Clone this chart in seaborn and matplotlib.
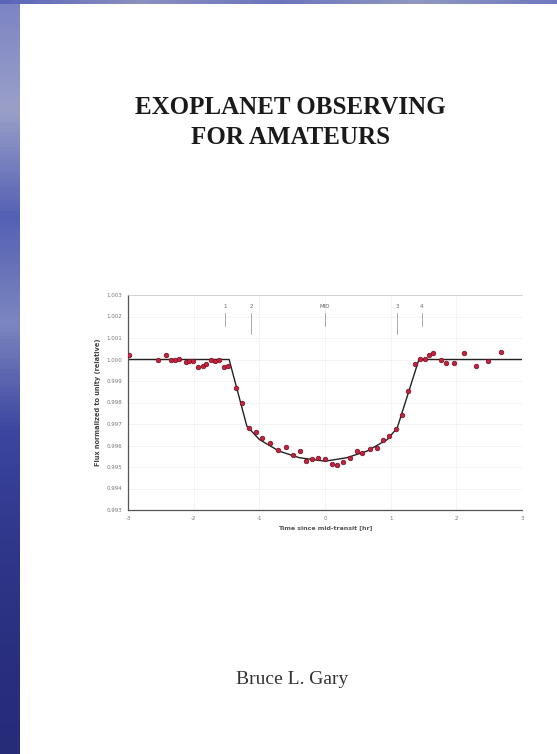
import numpy as np
import pandas as pd
import seaborn as sns
import matplotlib.pyplot as plt
from matplotlib.colors import LinearSegmentedColormap

# light curve points (hours from mid-transit, normalized flux)
time_hr = [-2.98, -2.55, -2.42, -2.34, -2.29, -2.23, -2.12, -2.07, -2.01, -1.94,
           -1.86, -1.81, -1.74, -1.67, -1.61, -1.54, -1.47, -1.36, -1.26, -1.15,
           -1.05, -0.96, -0.84, -0.72, -0.59, -0.49, -0.38, -0.29, -0.20, -0.10,
           0.00, 0.10, 0.19, 0.28, 0.38, 0.48, 0.57, 0.69, 0.79, 0.89,
           0.98, 1.08, 1.17, 1.27, 1.37, 1.45, 1.53, 1.59, 1.65, 1.76,
           1.85, 1.96, 2.11, 2.30, 2.48, 2.68]
flux = [1.00019, 1.00000, 1.00020, 1.00000, 0.99997, 1.00003, 0.99988, 0.99991, 0.99994, 0.99966,
        0.99972, 0.99978, 1.00000, 0.99991, 1.00000, 0.99966, 0.99969, 0.99868, 0.99798, 0.99682,
        0.99662, 0.99636, 0.99612, 0.99581, 0.99594, 0.99558, 0.99574, 0.99527, 0.99538, 0.99543,
        0.99535, 0.99516, 0.99510, 0.99522, 0.99543, 0.99574, 0.99566, 0.99585, 0.99589, 0.99625,
        0.99643, 0.99678, 0.99744, 0.99853, 0.99977, 1.00003, 1.00003, 1.00019, 1.00028, 1.00000,
        0.99984, 0.99984, 1.00028, 0.99969, 0.99992, 1.00034]

# fitted model curve
model_t = [-3.0, -1.46, -1.19, -1.00, -0.70, -0.39, 0.00, 0.33, 0.64, 0.95, 1.10, 1.43, 3.0]
model_f = [1.0000, 1.0000, 0.99690, 0.99628, 0.99574, 0.99543, 0.99527, 0.99543, 0.99574, 0.99628, 0.99682, 1.0000, 1.0000]

# contact markers
contact_t = [-1.52, -1.12, 0.0, 1.10, 1.47]
contact_lab = ["1", "2", "MID", "3", "4"]

xticks = [-3, -2, -1, 0, 1, 2, 3]
yticks = [1.003, 1.002, 1.001, 1.000, 0.999, 0.998, 0.997, 0.996, 0.995, 0.994, 0.993]

sns.set_theme(style="white")
plt.rcParams['font.family'] = ['Liberation Serif', 'DejaVu Serif']

fig = plt.figure(figsize=(5.57, 7.54), dpi=100)
fig.patch.set_facecolor('white')

# blue page edge on the left and top
strip = fig.add_axes([0, 0, 20 / 557, 1])
grad = np.linspace(0, 1, 200).reshape(-1, 1)
cm = LinearSegmentedColormap.from_list('edge', ['#7c84c4', '#9aa0c8', '#5460b4', '#7c86c0', '#3c46a0',
                                                '#30388c', '#2a3080', '#262c78'])
strip.imshow(grad, aspect='auto', cmap=cm, extent=[0, 1, 0, 1], origin='upper')
strip.axis('off')
top = fig.add_axes([0, 1 - 4 / 754, 1, 4 / 754])
cm2 = LinearSegmentedColormap.from_list('top', ['#5a64b8', '#8a90c0', '#6c74bc', '#9098c0', '#7078c0'])
top.imshow(np.linspace(0, 1, 200).reshape(1, -1), aspect='auto', cmap=cm2, extent=[0, 1, 0, 1])
top.axis('off')

fig.text(0.522, 1 - 107 / 754, "EXOPLANET OBSERVING", ha='center', va='center',
         fontsize=18, fontweight='bold', color='#1a1a1a')
fig.text(0.522, 1 - 138 / 754, "FOR AMATEURS", ha='center', va='center',
         fontsize=18, fontweight='bold', color='#1a1a1a')
fig.text(0.524, 1 - 680 / 754, "Bruce L. Gary", ha='center', va='center',
         fontsize=14, color='#333333')

ax = fig.add_axes([128 / 557, 1 - 510 / 754, 394 / 557, 215 / 754])
sns.lineplot(x=model_t, y=model_f, ax=ax, color='#222222', lw=1.0, sort=False)
pts = pd.DataFrame({'t': time_hr, 'f': flux})
sns.scatterplot(data=pts, x='t', y='f', ax=ax, s=11, color='#c8203c',
                edgecolor='#6a1424', linewidth=0.5, zorder=3)

for t, lab in zip(contact_t, contact_lab):
    long = lab in ("2", "3")
    ax.plot([t, t], [1.00217, 1.00117 if long else 1.00155], color='#888888', lw=0.5)
    ax.text(t, 1.00235, lab, ha='center', va='bottom', fontsize=4, color='#666666',
            family='DejaVu Sans')

ax.set_xlim(-3, 3)
ax.set_ylim(0.993, 1.003)
ax.set_xticks(xticks)
ax.set_yticks(yticks)
ax.set_xticklabels([str(v) for v in xticks], fontsize=4, color='#777777', family='DejaVu Sans')
ax.set_yticklabels([f"{v:.3f}" for v in yticks], fontsize=4, color='#777777', family='DejaVu Sans')
ax.tick_params(length=2, width=0.5, pad=2, color='#777777')
ax.grid(True, color='#eeeeee', lw=0.5)
for s in ['left', 'bottom']:
    ax.spines[s].set_color('#555555')
    ax.spines[s].set_linewidth(0.9)
ax.spines['top'].set_color('#cccccc')
ax.spines['top'].set_linewidth(0.6)
ax.spines['right'].set_visible(False)
ax.set_xlabel("Time since mid-transit [hr]", fontsize=4.5, fontweight='bold', color='#555555',
              family='DejaVu Sans', labelpad=3)
ax.set_ylabel("Flux normalized to unity (relative)", fontsize=4.8, fontweight='bold',
              color='#444444', family='DejaVu Sans', labelpad=4)
ax.set_facecolor('white')

fig.savefig('out.png', dpi=100, facecolor='white')
